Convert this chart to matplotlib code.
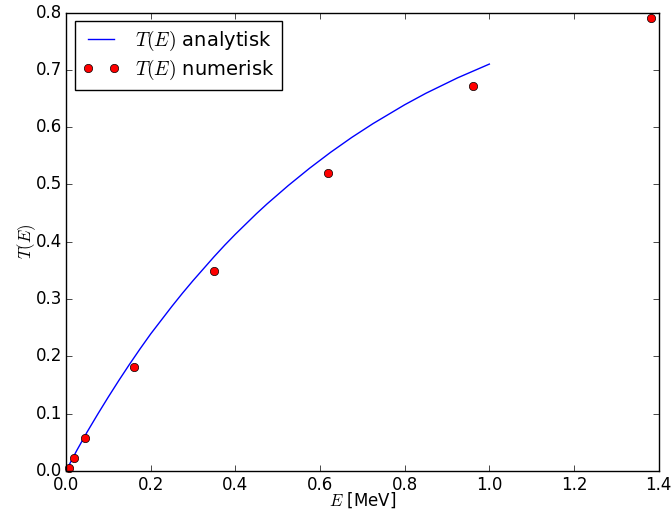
import matplotlib
matplotlib.use("Agg")
import matplotlib.pyplot as plt

plt.style.use('classic')

# analytic curve
E_analytic = [0.0, 0.025, 0.05, 0.075, 0.10, 0.125, 0.15, 0.175, 0.20, 0.225, 0.25,
              0.275, 0.30, 0.325, 0.35, 0.375, 0.40, 0.425, 0.45, 0.475, 0.50,
              0.525, 0.55, 0.575, 0.60, 0.625, 0.65, 0.675, 0.70, 0.725, 0.75,
              0.775, 0.80, 0.825, 0.85, 0.875, 0.90, 0.925, 0.95, 0.975, 1.00]
T_analytic = [0.0, 0.035, 0.068, 0.099, 0.129, 0.158, 0.186, 0.213, 0.239, 0.263, 0.287,
              0.310, 0.332, 0.353, 0.374, 0.394, 0.413, 0.431, 0.449, 0.466, 0.482,
              0.498, 0.513, 0.528, 0.542, 0.556, 0.569, 0.582, 0.594, 0.606, 0.617,
              0.628, 0.639, 0.649, 0.659, 0.668, 0.677, 0.686, 0.694, 0.702, 0.710]

# numerical points
E_num = [0.008, 0.018, 0.046, 0.161, 0.350, 0.618, 0.961, 1.381]
T_num = [0.005, 0.022, 0.057, 0.181, 0.348, 0.520, 0.672, 0.790]

xticks = [0.0, 0.2, 0.4, 0.6, 0.8, 1.0, 1.2, 1.4]
yticks = [0.0, 0.1, 0.2, 0.3, 0.4, 0.5, 0.6, 0.7, 0.8]

fig = plt.figure(figsize=(6.72, 5.13), dpi=100)
ax = fig.add_axes([0.0982, 0.0821, 0.882, 0.8935])

ax.plot(E_analytic, T_analytic, 'b-', linewidth=1, label=r'$T(E)$ analytisk')
ax.plot(E_num, T_num, 'o', color='red', markeredgecolor='black', markersize=6,
        label=r'$T(E)$ numerisk', clip_on=False)

ax.set_xlim(0, 1.4)
ax.set_ylim(0, 0.8)
ax.set_xticks(xticks)
ax.set_yticks(yticks)
ax.set_xlabel(r'$E$ [MeV]', fontsize=12, labelpad=-3)
ax.set_ylabel(r'$T(E)$', fontsize=12, labelpad=-2)
ax.tick_params(labelsize=12)
ax.tick_params(axis='x', pad=4)
ax.tick_params(axis='y', pad=3)
ax.legend(loc='upper left', numpoints=2, fontsize=14, labelspacing=0.25,
          borderpad=0.4, borderaxespad=0.45, handlelength=1.9)

fig.savefig('out.png', dpi=100)
